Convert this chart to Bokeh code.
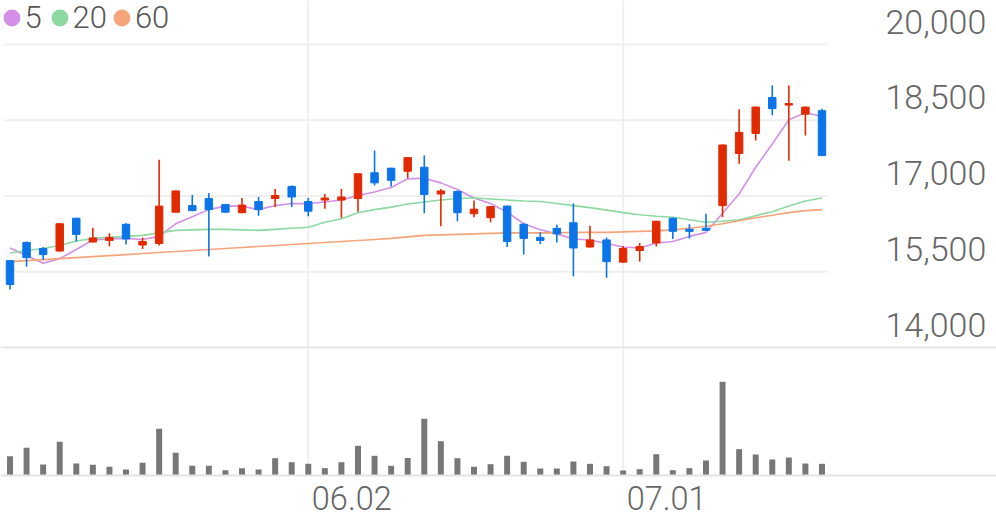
import numpy as np
from bokeh.plotting import figure
from bokeh.models import (Range1d, LinearAxis, FixedTicker, NumeralTickFormatter,
                          Span, Legend, LegendItem, ColumnDataSource)
from bokeh.embed import file_html
from bokeh.resources import INLINE

# ---------------- data ----------------
dates = ["05.07", "05.08", "05.09", "05.12", "05.13", "05.14", "05.15", "05.16", "05.19", "05.20",
         "05.21", "05.22", "05.23", "05.26", "05.27", "05.28", "05.29", "05.30", "06.02", "06.04",
         "06.05", "06.09", "06.10", "06.11", "06.12", "06.13", "06.16", "06.17", "06.18", "06.19",
         "06.20", "06.23", "06.24", "06.25", "06.26", "06.27", "06.30", "07.01", "07.02", "07.03",
         "07.04", "07.07", "07.08", "07.09", "07.10", "07.11", "07.14", "07.15", "07.16", "07.17"]
opens = [15720, 16080, 15960, 15910, 16560, 16090, 16120, 16440, 16030, 16060,
         16680, 16810, 16950, 16830, 16670, 16890, 16950, 17190, 16890, 16920,
         16920, 16950, 17460, 17550, 17490, 17570, 17040, 17090, 16650, 16570,
         16800, 16440, 16180, 16360, 16470, 15990, 16130, 15690, 15920, 16070,
         16560, 16340, 16360, 16810, 17840, 18240, 18950, 18800, 18620, 18690]
highs = [15730, 16100, 15990, 16460, 16570, 16370, 16260, 16460, 16180, 17720,
         17110, 17020, 17060, 16840, 16960, 16980, 17140, 17210, 16960, 17040,
         17140, 17450, 17900, 17560, 17770, 17800, 17140, 17110, 16910, 16800,
         16810, 16460, 16280, 16430, 16850, 16410, 16180, 16010, 16070, 16510,
         16570, 16440, 16650, 18020, 18720, 18770, 19190, 19190, 18770, 18730]
lows = [15150, 15600, 15740, 15900, 16100, 16080, 16000, 16040, 15950, 16020,
        16670, 16700, 15800, 16670, 16660, 16610, 16780, 16780, 16600, 16750,
        16570, 16690, 17210, 17190, 17350, 16660, 16400, 16500, 16580, 16480,
        15990, 15840, 16050, 16080, 15410, 15980, 15380, 15680, 15700, 16000,
        16150, 16160, 16310, 16580, 17640, 18100, 18600, 17700, 18200, 17790]
closes = [15250, 15780, 15840, 16450, 16240, 16170, 16180, 16150, 16100, 16800,
          17100, 16710, 16730, 16680, 16820, 16730, 17010, 16980, 16700, 16960,
          16980, 17440, 17260, 17310, 17760, 17030, 17100, 16670, 16740, 16790,
          16100, 16160, 16120, 16250, 15970, 16130, 15700, 15960, 16000, 16500,
          16300, 16300, 16320, 18010, 18260, 18760, 18730, 18830, 18760, 17800]
volumes = [193000, 277000, 110000, 337000, 120000, 107000, 87000, 60000, 127000, 467000,
           227000, 97000, 97000, 53000, 73000, 60000, 173000, 133000, 117000, 73000,
           133000, 297000, 197000, 97000, 175000, 567000, 343000, 173000, 87000, 113000,
           197000, 137000, 70000, 70000, 140000, 117000, 93000, 50000, 63000, 213000,
           53000, 73000, 150000, 937000, 263000, 210000, 160000, 180000, 120000, 117000]
ma5 = [15970, 15820, 15670, 15760, 15940, 16130, 16150, 16160, 16140, 16200,
       16450, 16590, 16730, 16800, 16800, 16730, 16810, 16850, 16850, 16880,
       16920, 17010, 17080, 17170, 17340, 17350, 17260, 17130, 16960, 16850,
       16680, 16450, 16330, 16250, 16150, 16130, 16060, 15990, 15970, 16070,
       16100, 16200, 16280, 16660, 17040, 17570, 18030, 18510, 18650, 18580]
ma20 = [15870, 15920, 15960, 16020, 16110, 16160, 16180, 16200, 16220, 16270,
        16320, 16330, 16340, 16340, 16330, 16320, 16340, 16360, 16380, 16480,
        16550, 16670, 16730, 16780, 16840, 16880, 16920, 16950, 16960, 16940,
        16920, 16900, 16890, 16850, 16810, 16770, 16720, 16670, 16630, 16600,
        16580, 16530, 16480, 16500, 16530, 16610, 16690, 16800, 16900, 16960]
ma60 = [15700, 15720, 15740, 15760, 15780, 15800, 15820, 15840, 15860, 15880,
        15900, 15920, 15940, 15960, 15980, 16000, 16020, 16040, 16060, 16080,
        16100, 16120, 16140, 16160, 16190, 16220, 16230, 16240, 16250, 16260,
        16270, 16270, 16270, 16270, 16280, 16280, 16280, 16290, 16300, 16310,
        16330, 16360, 16400, 16450, 16510, 16570, 16620, 16670, 16710, 16730]
price_ticks = [14000, 15500, 17000, 18500, 20000]
date_ticks = ["06.02", "07.01"]
ma_labels = ["5", "20", "60"]

# ---------------- style ----------------
UP, DOWN = "#e22a00", "#0b74e8"
MA_COLORS = ["#d490e8", "#8cd9a1", "#f5a47c"]
VOL_COLOR = "#777777"
GRID_COLOR = "#efefef"
LABEL_COLOR = "#666666"
FONT = "Roboto Light, Roboto"

W, H = 996, 519
BAR_PX = 16.571          # pixels per trading day
FIRST_PX = 9.5           # centre of first candle
TOP_PX, SEP_PX, BASE_PX = 44, 347, 475   # 20000 line, 14000 line, volume base
K = (price_ticks[-1] - price_ticks[0]) / (SEP_PX - TOP_PX)   # won per pixel
VOL_PER_PX = 10000

x_start = -FIRST_PX / BAR_PX
x_end = (W - FIRST_PX) / BAR_PX
y_end = price_ticks[-1] + TOP_PX * K
y_start = price_ticks[-1] - (H - TOP_PX) * K
y_base = price_ticks[-1] - (BASE_PX - TOP_PX) * K
vol_end = BASE_PX * VOL_PER_PX
vol_start = -(H - BASE_PX) * VOL_PER_PX

n = len(dates)
idx = list(range(n))
colors = [UP if c >= o else DOWN for o, c in zip(opens, closes)]
src = ColumnDataSource(dict(
    x=idx, open=opens, high=highs, low=lows, close=closes, vol=volumes,
    top=[max(o, c) for o, c in zip(opens, closes)],
    bottom=[min(o, c) for o, c in zip(opens, closes)],
    color=colors, ma5=ma5, ma20=ma20, ma60=ma60))

p = figure(width=W, height=H, x_range=Range1d(x_start, x_end), y_range=Range1d(y_start, y_end),
           output_backend="svg", toolbar_location=None,
           x_axis_location=None, y_axis_location=None, min_border=0,
           outline_line_color=None, background_fill_color="white", border_fill_color="white")
p.xgrid.grid_line_color = None
p.ygrid.grid_line_color = None

label_shift_px = 23
lab_shift_x = 43.5 / BAR_PX
p.extra_y_ranges = {"vol": Range1d(vol_start, vol_end),
                    "ylab": Range1d(y_start - label_shift_px * K, y_end - label_shift_px * K)}
p.extra_x_ranges = {"xlab": Range1d(x_start - lab_shift_x, x_end - lab_shift_x)}

# grid lines
glev = price_ticks[1:]
p.segment(x0=[-0.33] * len(glev), x1=[n - 1 + 0.33] * len(glev), y0=glev, y1=glev,
          line_color=GRID_COLOR, line_width=2)
p.add_layout(Span(location=price_ticks[0], dimension="width", line_color="#e6e6e6", line_width=2))
tick_idx = [dates.index(d) for d in date_ticks]
p.segment(x0=tick_idx, x1=tick_idx, y0=[y_base] * len(tick_idx), y1=[y_end] * len(tick_idx),
          line_color=GRID_COLOR, line_width=2)

# volume
p.vbar(x="x", top="vol", bottom=0, width=0.36, source=src, y_range_name="vol",
       fill_color=VOL_COLOR, line_color=None)

# moving averages
ma_cols = ["ma5", "ma20", "ma60"]
for col, c in zip(ma_cols, MA_COLORS):
    p.line(x="x", y=col, source=src, line_color=c, line_width=1.6)

# candles
p.segment(x0="x", x1="x", y0="high", y1="low", source=src, line_color="color", line_width=1.6)
p.vbar(x="x", top="top", bottom="bottom", width=0.45, source=src,
       fill_color="color", line_color="color", line_width=1)

# axes
xaxis = LinearAxis(x_range_name="xlab", fixed_location=y_base,
                   ticker=FixedTicker(ticks=tick_idx),
                   major_label_overrides={i: dates[i] for i in tick_idx},
                   axis_line_color="#e3e3e3", axis_line_width=2,
                   major_tick_line_color=None, minor_tick_line_color=None,
                   major_label_text_font=FONT, major_label_text_font_size="32.5px",
                   major_label_text_color=LABEL_COLOR, major_label_standoff=4)
p.add_layout(xaxis, "below")

yaxis = LinearAxis(y_range_name="ylab", fixed_location=(878 - FIRST_PX) / BAR_PX,
                   ticker=FixedTicker(ticks=price_ticks),
                   formatter=NumeralTickFormatter(format="0,0"),
                   axis_line_color=None, major_tick_line_color=None, minor_tick_line_color=None,
                   major_tick_out=0, minor_tick_out=0,
                   major_label_text_font=FONT, major_label_text_font_size="34px",
                   major_label_text_color=LABEL_COLOR, major_label_standoff=7)
p.add_layout(yaxis, "right")

# legend with round markers (tiny ellipses on the MA points supply the legend glyphs)
items = []
for lab, col, c in zip(ma_labels, ma_cols, MA_COLORS):
    r = p.ellipse(x="x", y=col, width=0.01, height=0.01, width_units="screen",
                  height_units="screen", source=src, fill_color=c, line_color=None)
    items.append(LegendItem(label=lab, renderers=[r], index=0))
legend = Legend(items=items, orientation="horizontal", location=(0.5, 483),
                glyph_width=21, glyph_height=21, label_standoff=3, spacing=4,
                padding=0, margin=0, border_line_color=None, background_fill_alpha=0,
                label_text_font=FONT, label_text_font_size="31px", label_text_color="#555555")
p.add_layout(legend, "center")

open("out.html", "w").write(file_html(p, INLINE))
